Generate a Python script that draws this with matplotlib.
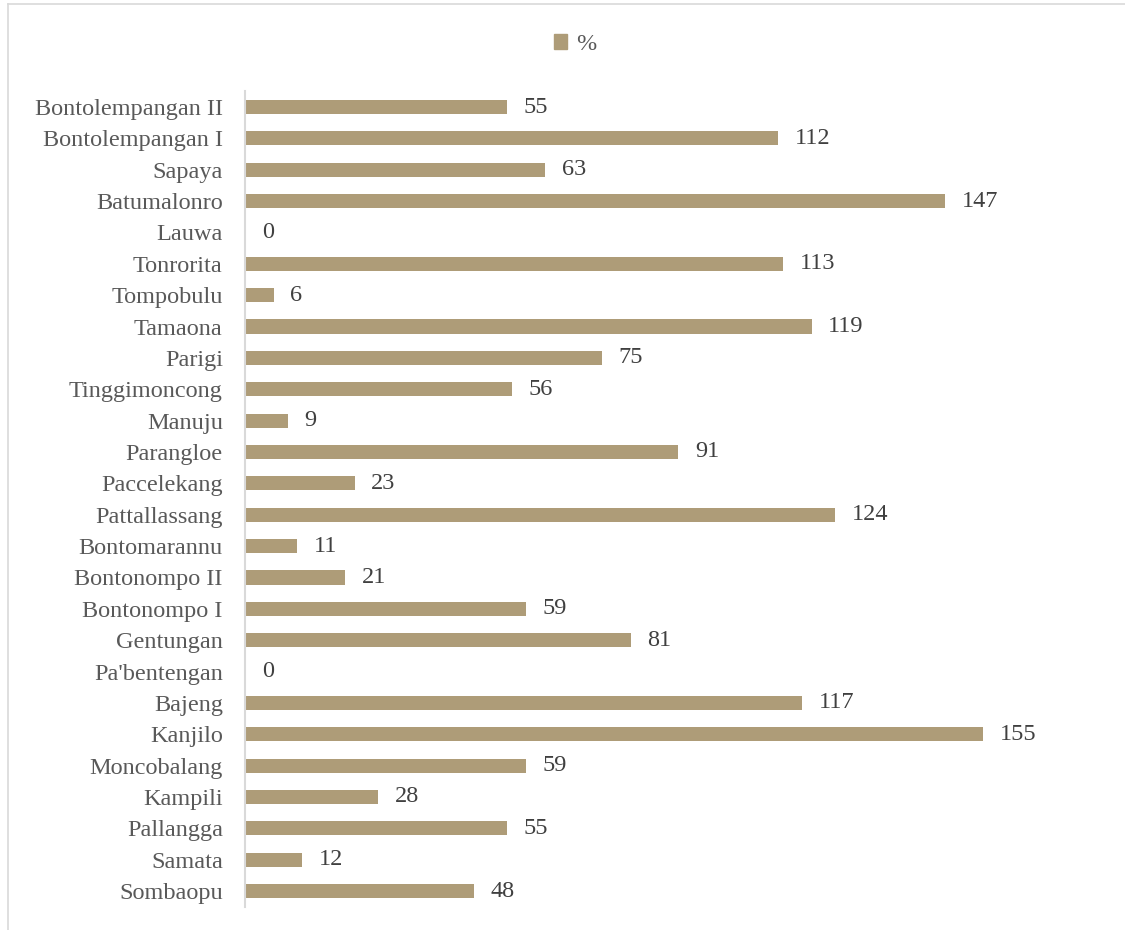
import matplotlib
matplotlib.use('Agg')
import matplotlib.pyplot as plt
from matplotlib.patches import Patch
from matplotlib.lines import Line2D

# categories top-to-bottom as shown in the chart
villages = [
    "Bontolempangan II", "Bontolempangan I", "Sapaya", "Batumalonro", "Lauwa",
    "Tonrorita", "Tompobulu", "Tamaona", "Parigi", "Tinggimoncong", "Manuju",
    "Parangloe", "Paccelekang", "Pattallassang", "Bontomarannu", "Bontonompo II",
    "Bontonompo I", "Gentungan", "Pa'bentengan", "Bajeng", "Kanjilo",
    "Moncobalang", "Kampili", "Pallangga", "Samata", "Sombaopu",
]
pct = [55, 112, 63, 147, 0, 113, 6, 119, 75, 56, 9, 91, 23, 124, 11, 21,
       59, 81, 0, 117, 155, 59, 28, 55, 12, 48]

plt.rcParams['font.family'] = ['Liberation Serif', 'DejaVu Serif']
fs = 17.5

fig = plt.figure(figsize=(11.25, 9.3), dpi=100)
ax = fig.add_axes([0.2178, 0.025, 0.7618, 0.8768])

bar_color = '#AE9C78'
y = range(len(villages))
ax.barh(list(y), pct, height=0.45, color=bar_color)
ax.set_yticks(list(y))
ax.set_yticklabels(villages, fontsize=fs, color='#595959')
ax.set_ylim(len(villages) - 0.5, -0.5)
ax.set_xlim(0, 180)
ax.set_xticks([])
ax.tick_params(axis='y', length=0, pad=16)

for i, v in enumerate(pct):
    ax.annotate(str(v), (v, i), xytext=(12, 0), textcoords='offset points',
                ha='left', va='center', fontsize=fs, color='#404040')

for s in ['top', 'right', 'bottom']:
    ax.spines[s].set_visible(False)
ax.spines['left'].set_color('#D9D9D9')
ax.spines['left'].set_linewidth(1.5)

fig.legend(handles=[Patch(color=bar_color, label='%')], loc='center',
           bbox_to_anchor=(0.511, 0.952), frameon=False, fontsize=fs,
           labelcolor='#595959', handlelength=0.55, handleheight=0.55,
           handletextpad=0.35)

# light chart-area border
fig.add_artist(Line2D([0.007, 0.007], [0, 0.996], transform=fig.transFigure,
                      color='#D9D9D9', lw=1.2))
fig.add_artist(Line2D([0.007, 1], [0.996, 0.996], transform=fig.transFigure,
                      color='#D9D9D9', lw=1.2))

fig.savefig('out.png', dpi=100)
